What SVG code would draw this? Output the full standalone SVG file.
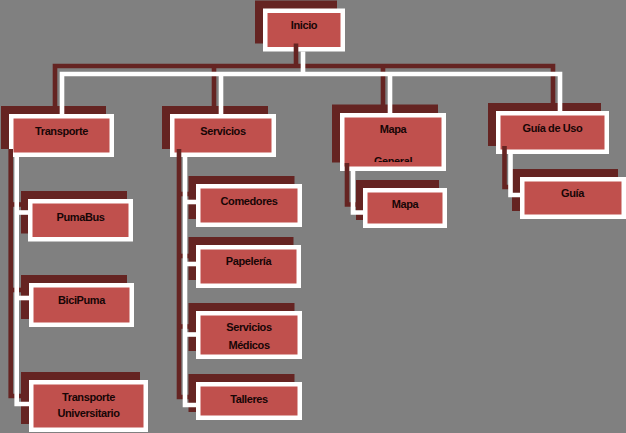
<svg xmlns="http://www.w3.org/2000/svg" width="626" height="433" viewBox="0 0 626 433">
<style>
.sh{fill:#652422}
.bx{fill:#C0504D;stroke:#FFFFFF;stroke-width:4.5}
.t{font-family:"Liberation Sans",Arial,sans-serif;font-weight:bold;font-size:11px;letter-spacing:-0.4px;fill:#170606;text-anchor:middle}
.cw{fill:none;stroke:#FFFFFF;stroke-width:4.6}
.cd{fill:none;stroke:#652422;stroke-width:4.6}
</style>
<defs>
<clipPath id="clipGeneral"><rect x="340" y="113" width="106" height="49"/></clipPath>
<g id="lvl1">
<path d="M303,51.5 V74"/>
<path d="M62,114 V74 H560 V111"/>
<path d="M221,74 V114"/>
<path d="M390,74 V113"/>
</g>
<g id="lvl2">
<path d="M16.7,157 V404 H29"/>
<path d="M16.7,212.5 H28"/>
<path d="M16.7,298 H29"/>
<path d="M185,157 V405 H196"/>
<path d="M185,202 H196"/>
<path d="M185,264 H196"/>
<path d="M185,334.5 H196"/>
<path d="M353,171 V212.5 H363"/>
<path d="M510.5,154 V195 H520"/>
</g>
</defs>
<rect x="0" y="0" width="626" height="433" fill="#808080"/>

<g id="node-inicio">
<rect class="sh" x="255" y="0.5" width="82" height="43"/>
<rect class="bx" x="265.25" y="10.75" width="77.5" height="38.5"/>
<text class="t" x="304" y="29">Inicio</text>
</g>
<g id="node-transporte">
<rect class="sh" x="1" y="106" width="105" height="43"/>
<rect class="bx" x="11.25" y="116.25" width="100.5" height="38.5"/>
<text class="t" x="61.5" y="135">Transporte</text>
</g>
<g id="node-servicios">
<rect class="sh" x="162" y="106" width="106" height="43"/>
<rect class="bx" x="172.25" y="116.25" width="101.5" height="38.5"/>
<text class="t" x="223" y="135">Servicios</text>
</g>
<g id="node-mapa-general">
<rect class="sh" x="332" y="104.5" width="106" height="58"/>
<rect class="bx" x="342.25" y="115.25" width="101.5" height="53.5"/>
<text class="t" x="393" y="133">Mapa</text>
<text class="t" x="393" y="164.5" clip-path="url(#clipGeneral)">General</text>
</g>
<g id="node-guia-uso">
<rect class="sh" x="488" y="103" width="113" height="43"/>
<rect class="bx" x="498.25" y="113.25" width="108.5" height="38.5"/>
<text class="t" x="552.5" y="132">Guía de Uso</text>
</g>
<g id="node-guia">
<rect class="sh" x="512" y="169" width="106" height="42"/>
<rect class="bx" x="522.25" y="179.25" width="101.5" height="37.5"/>
<text class="t" x="572.5" y="197">Guía</text>
</g>
<g id="node-mapa">
<rect class="sh" x="356" y="180" width="83" height="40"/>
<rect class="bx" x="365.25" y="190.25" width="79.5" height="35.5"/>
<text class="t" x="405" y="208">Mapa</text>
</g>
<g id="node-pumabus">
<rect class="sh" x="21" y="191" width="106" height="42.5"/>
<rect class="bx" x="30.25" y="201.25" width="100.5" height="38"/>
<text class="t" x="80.5" y="221">PumaBus</text>
</g>
<g id="node-bicipuma">
<rect class="sh" x="21" y="275" width="106" height="44"/>
<rect class="bx" x="31.25" y="285.25" width="100.5" height="39.5"/>
<text class="t" x="81.5" y="304">BiciPuma</text>
</g>
<g id="node-transporte-univ">
<rect class="sh" x="21" y="372" width="119" height="52"/>
<rect class="bx" x="31.25" y="382.25" width="114.5" height="47.5"/>
<text class="t" x="88.5" y="401">Transporte</text>
<text class="t" x="88.5" y="417">Universitario</text>
</g>
<g id="node-comedores">
<rect class="sh" x="188.5" y="176" width="106" height="43"/>
<rect class="bx" x="198.25" y="186.25" width="101.5" height="38.5"/>
<text class="t" x="249" y="205">Comedores</text>
</g>
<g id="node-papeleria">
<rect class="sh" x="188.5" y="237" width="105" height="43"/>
<rect class="bx" x="198.25" y="247.25" width="100.5" height="38.5"/>
<text class="t" x="248.5" y="265">Papelería</text>
</g>
<g id="node-servicios-medicos">
<rect class="sh" x="188.5" y="303" width="106" height="48"/>
<rect class="bx" x="198.25" y="313.25" width="101.5" height="43.5"/>
<text class="t" x="249" y="331">Servicios</text>
<text class="t" x="249" y="349">Médicos</text>
</g>
<g id="node-talleres">
<rect class="sh" x="188.5" y="374" width="106" height="38"/>
<rect class="bx" x="198.25" y="384.25" width="101.5" height="33.5"/>
<text class="t" x="249" y="403">Talleres</text>
</g>

<g id="connectors">
<use href="#lvl1" class="cd" transform="translate(-7,-8)"/>
<use href="#lvl2" class="cd" transform="translate(-6,-8)"/>
<use href="#lvl1" class="cw"/>
<use href="#lvl2" class="cw"/>
</g>
</svg>
